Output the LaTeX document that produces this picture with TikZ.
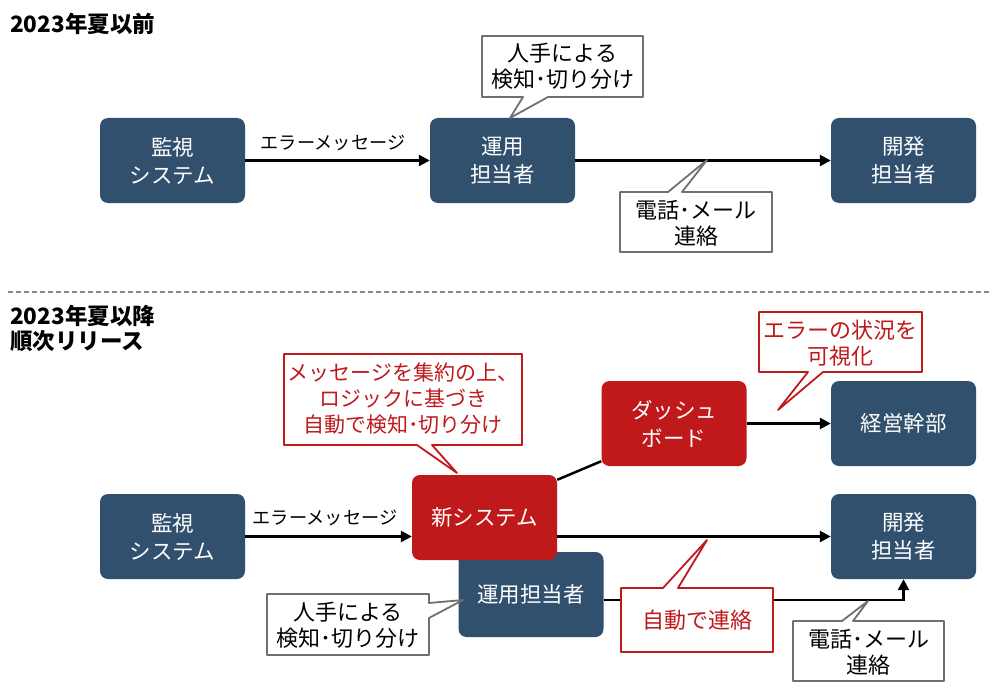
\documentclass[tikz,border=0pt]{standalone}
\usepackage{fontspec}
\setmainfont{Noto Sans CJK JP}
\usetikzlibrary{arrows.meta,calc}
\definecolor{navy}{HTML}{31506E}
\definecolor{crimson}{HTML}{C0191C}
\definecolor{calloutgray}{HTML}{707070}
\definecolor{dashgray}{HTML}{8C8C8C}
\begin{document}
\begin{tikzpicture}[x=1pt,y=-1pt,
  box/.style={rounded corners=8pt, minimum width=145pt, minimum height=85pt, text=white,
    font=\fontsize{21.5}{28}\selectfont, align=center, inner sep=0pt},
  bluebox/.style={box, fill=navy},
  redbox/.style={box, fill=crimson},
  arr/.style={line width=2.5pt, -{Triangle[length=11pt,width=11pt]}},
  conn/.style={line width=2.5pt},
  gcall/.style={draw=calloutgray, line width=1.8pt, fill=white, line join=round},
  rcall/.style={draw=crimson, line width=1.8pt, fill=white, line join=round},
  gtext/.style={font=\fontsize{22}{26}\selectfont, align=center, text=black, inner sep=0pt},
  rtext/.style={gtext, text=crimson},
  lbl/.style={font=\fontsize{18.2}{20}\selectfont, inner sep=0pt},
  head/.style={font=\bfseries\fontsize{22.5}{25}\selectfont, align=left, anchor=west, inner sep=0pt}
]
\useasboundingbox (0,0) rectangle (1000,690);

% headings
\node[head] (h1) at (10,24) {2023年夏以前};
\node[head] (h2) at (10,328.5) {2023年夏以降\\順次リリース};

% separator
\draw[dashgray, line width=1.5pt, dash pattern=on 5pt off 3pt] (8,292) -- (992,292);

% ---- top section ----
\node[bluebox] (mon1) at (172.5,160.5) {監視\\システム};
\node[bluebox] (ops1) at (502.5,160.5) {運用\\担当者};
\node[bluebox] (dev1) at (903.5,160.5) {開発\\担当者};

\draw[arr] (mon1) -- (ops1);
\node[lbl] (l1) at (333,143) {エラーメッセージ};
\draw[arr] (ops1) -- (dev1);

% callout: manual triage (top)
\draw[gcall] (482,36) -- (643,36) -- (643,97) -- (548,97) -- (510,118) -- (523,97) -- (482,97) -- cycle;
\node[gtext] (c1) at (562.5,66) {人手による\\検知･切り分け};

% callout: phone/mail (top)
\draw[gcall] (620,192) -- (668,192) -- (707,160) -- (682,192) -- (772,192) -- (772,252) -- (620,252) -- cycle;
\node[gtext] (c2) at (696,223) {電話･メール\\連絡};

% ---- bottom section ----
\node[bluebox] (mon2) at (172.5,536.5) {監視\\システム};
\node[bluebox] (ops2) at (531,594.5) {運用担当者};
\node[redbox] (new) at (484.5,517.5) {新システム};
\node[redbox] (dash) at (674,423.5) {ダッシュ\\ボード};
\node[bluebox] (exec) at (903.5,423.5) {経営幹部};
\node[bluebox] (dev2) at (903.5,536.5) {開発\\担当者};

\draw[arr] (mon2.east) -- (mon2.east -| new.west);
\node[lbl] (l2) at (325,518) {エラーメッセージ};
\draw[conn] ($(new.north east)+(0,5)$) -- ($(dash.south west)+(0,-5)$);
\draw[arr] (dash) -- (exec);
\draw[arr] (new.east |- dev2.west) -- (dev2.west);
\draw[arr] (ops2.east |- 0,600) -| (dev2.south);

% callout: aggregate
\draw[rcall] (284,354) -- (522,354) -- (522,445) -- (432,445) -- (457,473) -- (417,445) -- (284,445) -- cycle;
\node[rtext, font=\fontsize{21}{26}\selectfont] (c3) at (403,399) {メッセージを集約の上、\\ロジックに基づき\\自動で検知･切り分け};

% callout: visualize
\draw[rcall] (759,312) -- (922,312) -- (922,372) -- (823,372) -- (778,410) -- (808,372) -- (759,372) -- cycle;
\node[rtext] (c4) at (840.5,343) {エラーの状況を\\可視化};

% callout: auto contact
\draw[rcall] (621,588) -- (663,588) -- (707,540) -- (678,588) -- (773,588) -- (773,652) -- (621,652) -- cycle;
\node[rtext] (c5) at (697,620) {自動で連絡};

% callout: manual triage (bottom)
\draw[gcall] (267,594) -- (429,594) -- (429,603) -- (463,600) -- (429,618) -- (429,655) -- (267,655) -- cycle;
\node[gtext] (c6) at (348,625) {人手による\\検知･切り分け};

% callout: phone/mail (bottom)
\draw[gcall] (793,621) -- (842,621) -- (868,601) -- (853,621) -- (944,621) -- (944,681) -- (793,681) -- cycle;
\node[gtext] (c7) at (868.5,652) {電話･メール\\連絡};

\end{tikzpicture}
\end{document}
